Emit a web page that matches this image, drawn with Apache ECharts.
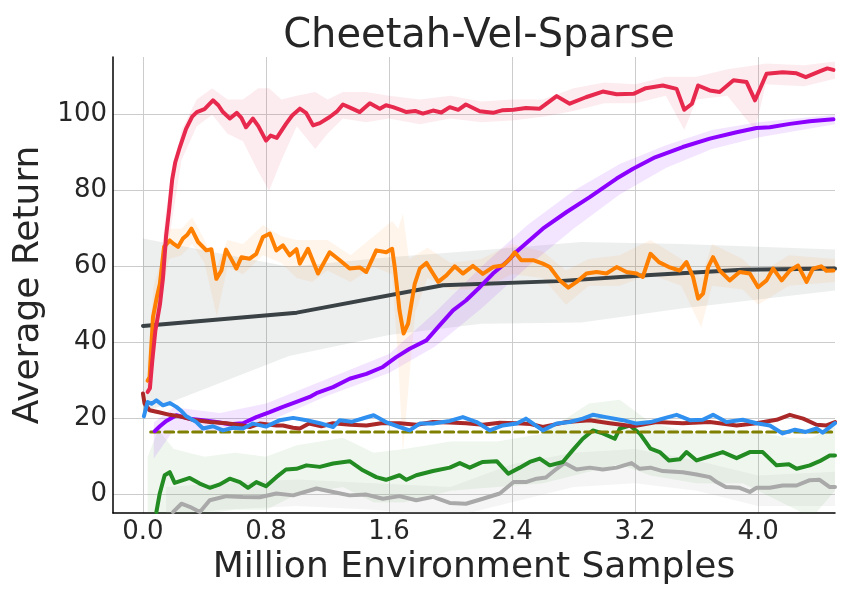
<!DOCTYPE html>
<html>
<head>
<meta charset="utf-8">
<script src="https://cdn.jsdelivr.net/npm/echarts@6/dist/echarts.min.js"></script>
<style>
  html, body { margin: 0; padding: 0; background: #fff; }
  #chart { width: 850px; height: 600px; }
</style>
</head>
<body>
<div id="chart"></div>
<script>
// tick labels
var xTicks = [0, 0.8, 1.6, 2.4, 3.2, 4.0];
var yTicks = [0, 20, 40, 60, 80, 100];

// mean curves [million samples, return]
var red = [[0.03,27],[0.045,28],[0.06,35],[0.08,43],[0.11,50],[0.13,57],[0.15,68],[0.17,75],[0.19,83],[0.21,87.5],[0.24,91.5],[0.28,96.3],[0.32,99.5],[0.35,100.7],[0.40,101.5],[0.455,103.8],[0.49,102.5],[0.52,100.7],[0.565,99],[0.61,100.5],[0.64,99.2],[0.67,96.7],[0.715,99],[0.75,97],[0.80,93.2],[0.83,94.5],[0.87,93.9],[0.93,97.6],[0.97,99.8],[1.02,101.6],[1.06,100.5],[1.106,97.2],[1.15,97.8],[1.214,99.4],[1.26,100.8],[1.30,102.7],[1.35,101.8],[1.41,100.7],[1.475,103],[1.54,101.6],[1.58,102.5],[1.626,102],[1.68,101.2],[1.713,100.7],[1.77,101],[1.82,100.3],[1.886,101.1],[1.94,100.6],[1.995,102],[2.05,101.3],[2.10,102.7],[2.19,100.9],[2.276,100.5],[2.34,101.2],[2.41,101.3],[2.49,101.8],[2.58,101.6],[2.69,104.9],[2.775,102.9],[2.88,104.6],[2.99,106.1],[3.08,105.4],[3.19,105.5],[3.27,107],[3.38,107.7],[3.47,106.8],[3.52,101.3],[3.57,102.9],[3.61,107.7],[3.686,106.4],[3.75,106],[3.84,109.1],[3.925,108.6],[3.98,103.8],[4.055,110.8],[4.16,111.2],[4.25,110.9],[4.31,109.9],[4.40,111.4],[4.45,112.2],[4.49,111.8]];
var orange = [[0.03,30],[0.043,31],[0.065,46.7],[0.09,52],[0.11,55.5],[0.137,65.2],[0.174,66.9],[0.2,66],[0.228,65.2],[0.26,67.4],[0.29,68.5],[0.315,70],[0.358,66.5],[0.412,64.3],[0.445,64.6],[0.477,56.8],[0.51,59],[0.54,64.5],[0.585,61.2],[0.607,59.5],[0.64,62.5],[0.694,62.1],[0.737,63.4],[0.78,67.8],[0.825,68.7],[0.867,64.3],[0.91,65.6],[0.954,63],[0.998,64.6],[1.02,60.8],[1.073,64.7],[1.138,58.2],[1.214,63.8],[1.28,61.7],[1.344,59.5],[1.41,59.8],[1.452,58.6],[1.517,64.3],[1.582,63.8],[1.62,64.7],[1.637,59.9],[1.668,48.5],[1.695,42.4],[1.724,45],[1.767,55.5],[1.80,59.5],[1.843,61],[1.886,58.2],[1.92,56],[1.973,57.7],[2.027,60.1],[2.08,58.2],[2.146,60.2],[2.21,58.1],[2.276,59.9],[2.34,60.3],[2.385,62],[2.418,63.8],[2.46,61.7],[2.537,61.7],[2.60,60.8],[2.645,59.9],[2.71,56.4],[2.765,54.5],[2.82,56],[2.884,58.2],[2.95,58.6],[3.014,58.2],[3.08,59.9],[3.144,58.6],[3.21,58.2],[3.25,57.3],[3.30,63.4],[3.355,61.2],[3.42,59.9],[3.49,59],[3.534,61.2],[3.577,57.3],[3.61,51.6],[3.642,52.9],[3.675,59.9],[3.707,62.5],[3.75,59],[3.815,56.4],[3.88,58.6],[3.946,58.2],[4.0,54.6],[4.055,56.4],[4.098,59.5],[4.153,56.4],[4.207,59],[4.26,60.3],[4.315,56],[4.357,59.5],[4.41,60.1],[4.445,58.9],[4.49,59]];
var purple = [[0.076,16.7],[0.11,18],[0.152,19.4],[0.217,20.9],[0.30,20],[0.39,19.6],[0.477,19.1],[0.564,18.5],[0.65,18.8],[0.737,20.4],[0.824,21.7],[0.91,23.1],[0.998,24.4],[1.084,25.7],[1.128,26.7],[1.236,28.3],[1.344,30.5],[1.453,31.8],[1.56,33.6],[1.647,36.2],[1.734,38.4],[1.843,40.6],[1.93,44.6],[2.016,48.5],[2.10,51.1],[2.19,54.6],[2.276,58.2],[2.364,61.2],[2.43,64],[2.60,70],[2.755,74.4],[2.905,78.3],[3.08,83.2],[3.187,85.8],[3.33,88.8],[3.51,91.5],[3.686,93.7],[3.86,95.4],[3.99,96.5],[4.076,96.7],[4.207,97.6],[4.336,98.3],[4.49,98.8]];
var slate = [[0,44.4],[1.0,47.9],[1.95,55.1],[2.7,56.2],[3.3,57.8],[3.9,59.2],[4.5,59.5]];
var brown = [[0.0,26.6],[0.01,24],[0.02,24],[0.043,22.2],[0.11,21.6],[0.174,21],[0.24,20.6],[0.325,19.7],[0.434,19.1],[0.543,18.8],[0.65,18.2],[0.694,17.8],[0.76,18.7],[0.867,18.2],[0.91,18.2],[0.976,17.6],[1.02,17.4],[1.08,18.7],[1.16,18],[1.236,18.8],[1.35,18.4],[1.453,18.2],[1.55,18.8],[1.668,18.8],[1.78,18.4],[1.886,19.1],[1.99,19],[2.10,18.8],[2.21,18.4],[2.32,18.9],[2.43,18.8],[2.52,18.6],[2.6,17.8],[2.68,18.5],[2.755,19.1],[2.905,19.6],[3.035,18.8],[3.187,18],[3.34,19.1],[3.51,18.8],[3.686,19.1],[3.86,18.2],[3.99,18.8],[4.12,19.7],[4.206,21],[4.293,20],[4.38,18.4],[4.445,18.2],[4.5,19.1]];
var blue = [[0.006,20.6],[0.03,24.4],[0.055,23.9],[0.087,24.8],[0.13,23.5],[0.174,24.1],[0.217,23.1],[0.25,22],[0.282,20.6],[0.347,19.1],[0.39,17.4],[0.455,18],[0.52,16.9],[0.585,17.6],[0.65,17.4],[0.715,18.7],[0.8,17.9],[0.89,19.6],[0.976,20.2],[1.063,19.6],[1.15,18.8],[1.236,17.8],[1.28,19.6],[1.36,19.2],[1.45,20.3],[1.5,20.9],[1.58,19.1],[1.668,17.8],[1.734,16.9],[1.8,18.7],[1.886,18.7],[1.995,19.4],[2.08,20.4],[2.17,19.1],[2.255,16.9],[2.34,18.2],[2.43,18.7],[2.49,20],[2.6,16.9],[2.69,18.7],[2.775,19.1],[2.86,20],[2.925,21],[3.01,20.4],[3.12,19.6],[3.21,18.7],[3.3,19.1],[3.38,20],[3.47,21],[3.556,19.6],[3.64,19.7],[3.707,21],[3.794,19.1],[3.9,19.7],[3.99,18.8],[4.076,18.2],[4.16,16.1],[4.24,17.1],[4.31,16.5],[4.38,17.4],[4.42,16.3],[4.5,18.8]];
var olive = [[0.05,16.5],[4.5,16.5]];
var green = [[0.087,-4.6],[0.109,0.3],[0.141,5.1],[0.174,5.9],[0.206,3.1],[0.26,3.8],[0.304,4.4],[0.369,2.9],[0.434,1.8],[0.5,2.7],[0.564,4.2],[0.63,3.3],[0.683,1.8],[0.737,3.3],[0.8,2.2],[0.867,4.6],[0.93,6.6],[0.998,6.8],[1.063,7.7],[1.15,7.3],[1.236,8.2],[1.344,8.8],[1.43,6.4],[1.517,4.6],[1.58,3.9],[1.668,5.1],[1.713,3.9],[1.777,5.1],[1.886,6.2],[1.995,7.1],[2.06,8.3],[2.125,7.1],[2.19,8.3],[2.21,8.6],[2.3,8.8],[2.375,5.5],[2.45,7.1],[2.515,8.6],[2.58,9.5],[2.645,7.7],[2.73,8.6],[2.795,11.7],[2.86,14.7],[2.925,16.9],[2.99,16.1],[3.068,14.7],[3.1,17.4],[3.165,18.2],[3.23,16.1],[3.3,12.1],[3.36,11.2],[3.42,9],[3.49,9.3],[3.534,11.2],[3.6,9],[3.686,10.1],[3.77,11.2],[3.86,9.6],[3.946,11.2],[4.03,11.2],[4.12,7.7],[4.2,8],[4.25,6.8],[4.336,7.7],[4.4,8.8],[4.466,10.3],[4.5,10.3]];
var gray = [[0.195,-4.6],[0.25,-2.4],[0.304,-3.2],[0.37,-4.6],[0.434,-1.5],[0.543,-0.4],[0.65,-0.6],[0.76,-0.7],[0.867,0.3],[0.976,-0.2],[1.128,1.6],[1.236,0.7],[1.344,-0.2],[1.453,0],[1.56,-1.1],[1.668,-0.4],[1.777,-1.5],[1.886,-0.6],[1.995,-2.2],[2.1,-2.4],[2.21,-1.1],[2.32,0.3],[2.41,3.3],[2.49,3.3],[2.56,4.2],[2.62,4.5],[2.69,6.8],[2.74,8.3],[2.82,6.6],[2.905,7.1],[2.99,6.6],[3.08,7.1],[3.177,8.3],[3.23,6.8],[3.3,7.1],[3.38,6.2],[3.51,5.9],[3.6,5.3],[3.686,4.6],[3.73,3.3],[3.79,2],[3.88,1.8],[3.946,0.7],[3.99,1.8],[4.076,1.8],[4.16,2.4],[4.25,2.4],[4.336,3.8],[4.4,3.9],[4.466,2],[4.5,2]];

// shaded bands [x, low, high]
var redBand = [[0.03,26,30],[0.15,62,75],[0.25,88,96],[0.35,97,104],[0.45,100,107],[0.55,95,104],[0.65,93,104],[0.75,85,107],[0.82,80,107],[0.9,88,104],[1.0,97,105],[1.12,91,106],[1.2,95,104],[1.3,99,106],[1.45,98,106],[1.6,99,105],[1.8,97.5,104],[2.0,99,105],[2.2,98,103.5],[2.4,98.5,104],[2.6,99.5,104],[2.8,101,107],[3.0,103,108.5],[3.2,103,108],[3.4,105,110],[3.52,96,110],[3.6,104,110],[3.8,105,112],[3.98,96,113],[4.05,108,113.5],[4.3,107.5,113],[4.5,109.5,114]];
var orangeBand = [[0.03,25,35],[0.07,38,55],[0.12,52,62],[0.17,62,70],[0.25,63,70],[0.32,66,73],[0.4,61,67],[0.48,47,60],[0.55,60,67],[0.65,58,66],[0.78,63,71],[0.9,61,68],[1.0,57,67],[1.1,56,67],[1.2,59,67],[1.35,56,63],[1.5,60,68],[1.62,58,72],[1.66,35,70],[1.69,11,74],[1.73,30,62],[1.77,48,63],[1.85,57,65],[2.0,54,61],[2.2,54,62],[2.4,58,66],[2.6,57,64],[2.75,50,59],[2.9,55,62],[3.1,55,63],[3.3,58,67],[3.5,55,62],[3.63,44,57],[3.7,55,66],[3.9,54,62],[4.0,50,58],[4.2,55,63],[4.5,56,62]];
var purpleBand = [[0.07,9.5,19],[0.2,17,23],[0.5,16.5,21.5],[0.8,19,24],[1.2,26,30.5],[1.6,32,37],[1.9,39,48],[2.2,49,60],[2.5,60,71],[2.8,70,80],[3.1,79,87],[3.4,86,92],[3.7,91,96],[4.0,94,98],[4.5,97.5,100]];
var slateBand = [[0,21.5,67.4],[0.95,36.5,60],[1.6,42,62.5],[2.2,45,64.3],[2.85,45.3,66.5],[3.5,49,66],[4.5,53.7,64.5]];
var greenBand = [[0.03,-6,10],[0.1,-6,17],[0.2,-5,12],[0.4,-5,10],[0.6,-4,11],[0.8,-4,10],[1.0,0,13],[1.3,2,15],[1.5,-2,11],[1.7,-2,12],[2.0,1,14],[2.3,2,14],[2.6,3,16],[2.9,6,24],[3.1,8,25],[3.3,5,19],[3.6,3,16],[3.9,3,17],[4.2,-3,15],[4.35,-6,15],[4.5,1,18]];
var grayBand = [[0.15,-6,2],[0.5,-4,3],[1.0,-3,4],[1.5,-4,3],[2.0,-6,2],[2.4,-2,8],[2.8,2,11],[3.2,3,12],[3.6,1,9],[4.0,-3,5],[4.5,-3,6]];

var textColor = '#262626';

function band(rows, color) {
    return {
        type: 'custom',
        silent: true,
        data: [0],
        z: 1,
        renderItem: function (params, api) {
            var pts = [];
            for (var i = 0; i < rows.length; i++) {
                pts.push(api.coord([rows[i][0], rows[i][2]]));
            }
            for (var j = rows.length - 1; j >= 0; j--) {
                pts.push(api.coord([rows[j][0], rows[j][1]]));
            }
            var cs = params.coordSys;
            return {
                type: 'polygon',
                shape: { points: pts },
                style: { fill: color },
                clipPath: { type: 'rect', shape: { x: cs.x, y: cs.y, width: cs.width, height: cs.height } }
            };
        }
    };
}

function line(data, color, width, z, dash) {
    return {
        type: 'line',
        data: data,
        showSymbol: false,
        symbol: 'none',
        z: z,
        silent: true,
        lineStyle: { color: color, width: width, type: dash || 'solid', cap: 'round', join: 'round' }
    };
}

var chart = echarts.init(document.getElementById('chart'));
chart.setOption({
    animation: false,
    title: {
        text: 'Cheetah-Vel-Sparse',
        left: 474,
        textAlign: 'center',
        top: 12,
        textStyle: { fontFamily: 'DejaVu Sans', fontSize: 40, fontWeight: 'normal', color: textColor }
    },
    grid: { left: 113, right: 15, top: 57, bottom: 87 },
    xAxis: {
        type: 'value',
        min: -0.195,
        max: 4.5,
        name: 'Million Environment Samples',
        nameLocation: 'middle',
        nameGap: 33,
        nameTextStyle: { fontFamily: 'DejaVu Sans', fontSize: 36, color: textColor },
        axisLine: { show: true, onZero: false, lineStyle: { color: '#000', width: 1.5 } },
        axisTick: { show: false, customValues: xTicks },
        axisLabel: {
            customValues: xTicks,
            margin: 6,
            fontFamily: 'DejaVu Sans', fontSize: 26, color: textColor,
            formatter: function (v) { return v.toFixed(1); }
        },
        splitLine: { show: true, lineStyle: { color: '#cccccc', width: 1 } }
    },
    yAxis: {
        type: 'value',
        min: -4.84,
        max: 115.2,
        name: 'Average Return',
        nameLocation: 'middle',
        nameGap: 66,
        nameTextStyle: { fontFamily: 'DejaVu Sans', fontSize: 36, color: textColor },
        axisLine: { show: true, onZero: false, lineStyle: { color: '#000', width: 1.5 } },
        axisTick: { show: false, customValues: yTicks },
        axisLabel: {
            customValues: yTicks,
            margin: 6,
            fontFamily: 'DejaVu Sans', fontSize: 26, color: textColor
        },
        splitLine: { show: true, lineStyle: { color: '#cccccc', width: 1 } }
    },
    series: [
        band(slateBand, 'rgba(58,66,69,0.09)'),
        band(grayBand, 'rgba(169,169,169,0.12)'),
        band(greenBand, 'rgba(34,139,34,0.08)'),
        band(purpleBand, 'rgba(139,0,255,0.10)'),
        band(orangeBand, 'rgba(255,127,0,0.08)'),
        band(redBand, 'rgba(232,41,78,0.09)'),
        line(gray, '#a9a9a9', 4, 3),
        line(green, '#228b22', 4, 4),
        line(olive, '#808000', 3, 5, [9, 5]),
        line(slate, '#3a4245', 4, 6),
        line(purple, '#8b00ff', 4, 7),
        line(brown, '#aa2828', 4, 8),
        line(blue, '#3090f0', 4, 9),
        line(orange, '#ff7f00', 4, 10),
        line(red, '#e8294e', 4, 11)
    ]
});
</script>
</body>
</html>
